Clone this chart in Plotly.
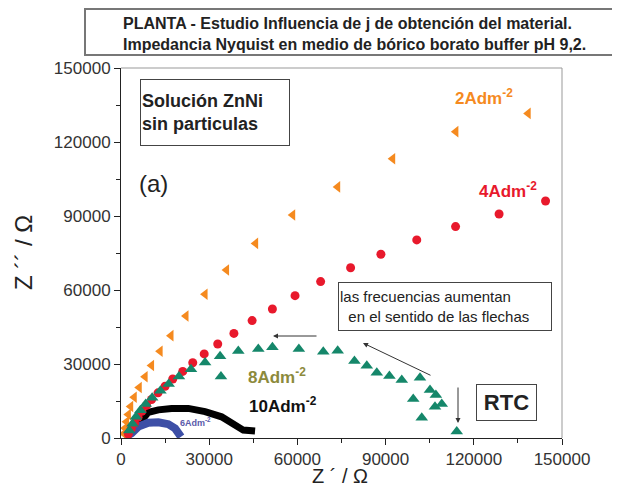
import plotly.graph_objects as go

# ---- data ----
x_2A = [138500, 113900, 92400, 73700, 58400, 45800, 35900, 28600, 22100, 17000, 13300, 10400, 8200, 6200, 4500, 3300, 2500, 1900, 1400, 1000]
y_2A = [131600, 124200, 113200, 101800, 90400, 78900, 68100, 58300, 49500, 41500, 35200, 29400, 24800, 20500, 16500, 12800, 9500, 6600, 4000, 1800]

x_4A = [144400, 128600, 113800, 100600, 88400, 78100, 67900, 59200, 51500, 44600, 38400, 32900, 28300, 24400, 21000, 17600, 15000, 12600, 10400, 8700, 7100, 5800, 4600, 3500, 2500]
y_4A = [96100, 90800, 85700, 80300, 74500, 69000, 63400, 57700, 52300, 47600, 42400, 38100, 34100, 30500, 27000, 23900, 21000, 18300, 15600, 13200, 10800, 8400, 6000, 3700, 1600]

x_8A = [114200, 102300, 106800, 109100, 99400, 107100, 105100, 101700, 95500, 91300, 87000, 83600, 79400, 73700, 68800, 60500, 51500, 46700, 39900, 33700, 34000, 28600, 23800, 19700, 16200, 13400, 10600, 8400, 6600, 5100, 3900, 2800]
y_8A = [2600, 8200, 12700, 13800, 15800, 17400, 19500, 24400, 23500, 25100, 26500, 29300, 31200, 35400, 35000, 36100, 36800, 36100, 35300, 33100, 24900, 30600, 27900, 24900, 21900, 19200, 16300, 13800, 11200, 8600, 5800, 3000]

x_10A = [3000, 5500, 7500, 9300, 12700, 17200, 22900, 28600, 34200, 37100, 39300, 41600, 45600]
y_10A = [1500, 5500, 8500, 10400, 11400, 12000, 12000, 10700, 8600, 6600, 4600, 3200, 2800]

x_6A = [1000, 3600, 5900, 9300, 12700, 16100, 18400, 19700, 20400]
y_6A = [300, 1900, 4600, 6200, 6400, 5600, 3900, 1900, 500]

tick_vals = [0, 30000, 60000, 90000, 120000, 150000]
tick_text = ["0", "30000", "60000", "90000", "120000", "150000"]

ORANGE = "#F58A1F"
RED = "#E8192C"
GREEN = "#15876A"
BLUE = "#3D4FA6"

# plot area on screen: x 121..562, y 68..438 (page body adds an 8px offset)
OFF = 8
PX0, PX1, PY0, PY1 = 121, 562, 68, 438
PW, PH = PX1 - PX0, PY1 - PY0
L, T = PX0 - OFF, PY0 - OFF
R, B = 620 - L - PW, 488 - T - PH


def px(xp):
    return (xp - PX0) / PW


def py(yp):
    return (PY1 - yp) / PH


fig = go.Figure()
fig.add_trace(go.Scatter(x=x_10A, y=y_10A, mode="lines", line=dict(color="black", width=7), showlegend=False))
fig.add_trace(go.Scatter(x=x_6A, y=y_6A, mode="lines", line=dict(color=BLUE, width=8), showlegend=False))
fig.add_trace(go.Scatter(x=x_2A, y=y_2A, mode="markers", marker=dict(symbol="triangle-left", size=10, color=ORANGE), showlegend=False))
fig.add_trace(go.Scatter(x=x_4A, y=y_4A, mode="markers", marker=dict(symbol="circle", size=9, color=RED), showlegend=False))
fig.add_trace(go.Scatter(x=x_8A, y=y_8A, mode="markers", marker=dict(symbol="triangle-up", size=11, color=GREEN), showlegend=False))

axis_common = dict(
    range=[0, 150000], tickvals=tick_vals, ticktext=tick_text, ticks="outside", ticklen=6,
    tickcolor="#222", showline=True, linecolor="#222", linewidth=1, showgrid=False, zeroline=False,
    tickfont=dict(family="Liberation Sans, Arial", size=17, color="#333"),
    minor=dict(dtick=15000, ticks="outside", ticklen=4, tickcolor="#222"),
)
fig.update_xaxes(**axis_common)
fig.update_yaxes(**axis_common)

shapes = [
    # light frame top/right
    dict(type="line", xref="paper", yref="paper", x0=0, x1=1, y0=1, y1=1, line=dict(color="#999", width=1)),
    dict(type="line", xref="paper", yref="paper", x0=1, x1=1, y0=0, y1=1, line=dict(color="#999", width=1)),
    # title box
    dict(type="rect", xref="paper", yref="paper", x0=px(85), x1=px(640), y0=py(55), y1=py(9),
         line=dict(color="#777", width=2)),
]


def note(x, y, text, font, xanchor="center", yanchor="middle", **kw):
    return dict(xref="paper", yref="paper", x=px(x), y=py(y), xanchor=xanchor, yanchor=yanchor,
                text=text, showarrow=False, font=font, **kw)


F = "Liberation Sans, Arial"
ann = []
ann.append(note(121, 34, "<b>PLANTA - Estudio Influencia de j de obtención del material.<br>"
                "Impedancia Nyquist en medio de bórico borato buffer pH 9,2.</b>",
                dict(family=F, size=16, color="#222"), xanchor="left", align="left"))
ann.append(note(215, 112.5, "<b>Solución ZnNi<br>sin particulas</b>", dict(family=F, size=18, color="#222"),
                align="left", bordercolor="#444", borderwidth=1, width=146, height=63, bgcolor="white"))
ann.append(note(153, 183, "(a)", dict(family=F, size=24, color="#222")))
lab = 17
ann.append(note(453, 97, "<b>2Adm<sup>-2</sup></b>", dict(family=F, size=lab, color=ORANGE), xanchor="left"))
ann.append(note(477, 190, "<b>4Adm<sup>-2</sup></b>", dict(family=F, size=lab, color=RED), xanchor="left"))
ann.append(note(246, 376, "<b>8Adm<sup>-2</sup></b>", dict(family=F, size=lab, color="#8C8A3C"), xanchor="left"))
ann.append(note(247, 405, "<b>10Adm<sup>-2</sup></b>", dict(family=F, size=lab, color="#111"), xanchor="left"))
ann.append(note(178, 422, "<b>6Adm<sup>-2</sup></b>", dict(family=F, size=9, color="#5A5AAA"), xanchor="left"))
ann.append(note(445, 306.5, "las frecuencias aumentan<br>  en el sentido de las flechas",
                dict(family=F, size=15, color="#222"), align="left",
                bordercolor="#444", borderwidth=1, width=210, height=45, bgcolor="white"))
ann.append(note(506.5, 402.5, "<b>RTC</b>", dict(family=F, size=22, color="#222"),
                bordercolor="#444", borderwidth=1, width=57, height=33, bgcolor="white"))
# arrows
for hx, hy, tx, ty in [(273, 336, 318, 336), (363, 343, 432, 376), (458, 423, 458, 386)]:
    ann.append(dict(xref="paper", yref="paper", x=px(hx), y=py(hy), ax=tx - hx, ay=ty - hy, text="",
                    showarrow=True, arrowhead=2, arrowsize=1, arrowwidth=1, arrowcolor="#333"))
# axis titles
ann.append(note(340, 489, "Z ´ / Ω", dict(family=F, size=20, color="#222"), yanchor="bottom"))
ann.append(note(23, 253, "Z ´´ / Ω", dict(family=F, size=24, color="#222"), textangle=-90))

fig.update_layout(
    width=620, height=488, margin=dict(l=L, r=R, t=T, b=B),
    paper_bgcolor="white", plot_bgcolor="white", showlegend=False,
    shapes=shapes, annotations=ann,
)

fig.write_html("out.html")
